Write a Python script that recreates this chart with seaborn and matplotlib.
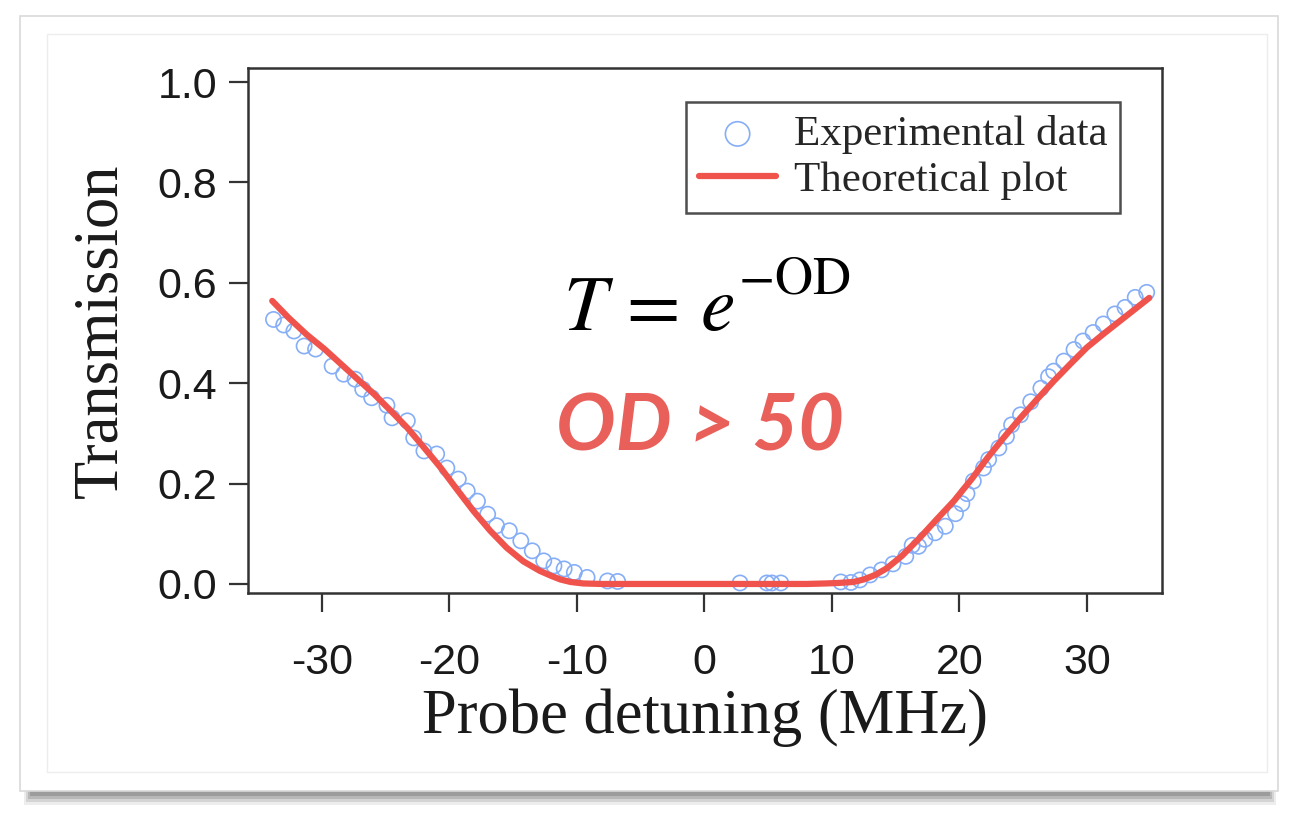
import numpy as np
import pandas as pd
import matplotlib
matplotlib.use("Agg")
import matplotlib.pyplot as plt
import seaborn as sns
from matplotlib.patches import Rectangle

# ---------------- data ----------------
exp_x = [-33.8, -33.0, -32.2, -31.4, -30.5, -29.2, -28.3, -27.4, -26.8, -26.1,
         -24.9, -24.5, -23.3, -22.8, -22.0, -21.0, -20.2, -19.3, -18.6, -17.8,
         -17.0, -16.3, -15.3, -14.4, -13.5, -12.6, -11.8, -11.0, -10.2, -9.2,
         -7.6, -6.8, 2.8, 4.9, 5.3, 6.0,
         10.7, 11.5, 12.2, 13.0, 13.9, 14.8, 15.8, 16.3, 16.8, 17.3, 18.1, 18.9,
         19.7, 20.2, 20.6, 21.1, 21.9, 22.3, 23.1, 23.7, 24.1, 24.8, 25.6, 26.4,
         27.0, 27.4, 28.2, 29.0, 29.7, 30.5, 31.3, 32.2, 33.0, 33.8, 34.7]
exp_y = [0.527, 0.516, 0.504, 0.474, 0.468, 0.434, 0.418, 0.408, 0.388, 0.371,
         0.356, 0.331, 0.325, 0.291, 0.265, 0.259, 0.231, 0.209, 0.185, 0.165,
         0.139, 0.116, 0.106, 0.086, 0.066, 0.046, 0.036, 0.030, 0.023, 0.013,
         0.006, 0.005, 0.002, 0.002, 0.002, 0.002,
         0.004, 0.003, 0.008, 0.018, 0.028, 0.040, 0.055, 0.077, 0.075, 0.089,
         0.102, 0.115, 0.140, 0.160, 0.180, 0.205, 0.231, 0.248, 0.271, 0.294,
         0.317, 0.337, 0.363, 0.390, 0.413, 0.424, 0.444, 0.467, 0.484, 0.501,
         0.518, 0.538, 0.551, 0.571, 0.581]

theo_x = [-33.9, -32.6, -31.2, -29.8, -28.5, -27.2, -25.9, -24.6, -23.3, -22.0,
          -20.7, -19.4, -18.1, -16.8, -15.5, -14.2, -12.9, -12.0, -11.3, -10.5,
          -9.5, -8.0, 0.0, 8.0, 9.5, 10.5, 11.7, 12.5, 13.4, 14.3, 15.5, 16.9,
          18.2, 19.6, 21.0, 22.2, 23.5, 24.8, 26.1, 27.4, 28.7, 30.0, 31.3,
          32.6, 33.8, 34.9]
theo_y = [0.564, 0.530, 0.497, 0.468, 0.438, 0.408, 0.378, 0.345, 0.311, 0.272,
          0.232, 0.188, 0.145, 0.106, 0.072, 0.045, 0.026, 0.016, 0.009, 0.004,
          0.001, 0.0, 0.0, 0.0, 0.001, 0.002, 0.004, 0.009, 0.018, 0.031, 0.056,
          0.092, 0.128, 0.166, 0.210, 0.251, 0.292, 0.331, 0.368, 0.404, 0.438,
          0.471, 0.498, 0.524, 0.548, 0.570]

x_ticks = [-30, -20, -10, 0, 10, 20, 30]
y_ticks = [0.0, 0.2, 0.4, 0.6, 0.8, 1.0]

exp_df = pd.DataFrame({"x": exp_x, "y": exp_y})
theo_df = pd.DataFrame({"x": theo_x, "y": theo_y})

# ---------------- styling ----------------
sns.set_theme(style="white")
plt.rcParams["font.family"] = ["Liberation Sans", "DejaVu Sans"]
plt.rcParams["mathtext.fontset"] = "stix"

RED = "#F0534C"
BLUE = "#86AEF7"
TEXT_RED = "#E9605B"

fig = plt.figure(figsize=(12.93, 8.19), dpi=100)
fig.patch.set_facecolor("white")

# card frame + shadow
W, H = 1293, 819
def fr(x0, y0, x1, y1, **kw):
    return Rectangle((x0 / W, 1 - y1 / H), (x1 - x0) / W, (y1 - y0) / H,
                     transform=fig.transFigure, **kw)
for i, a in enumerate([0.10, 0.16, 0.22, 0.28]):
    fig.patches.append(fr(24 + i * 2, 788, 1276 - i * 2, 796 + (3 - i) * 3,
                          facecolor="#555555", edgecolor="none", alpha=a, zorder=0))
fig.patches.append(fr(20, 16, 1278, 791, facecolor="white", edgecolor="#D9D9D9",
                      linewidth=1.2, zorder=1))
fig.patches.append(fr(47, 34, 1267, 772, facecolor="none", edgecolor="#EDEDED",
                      linewidth=1.0, zorder=1))

ax = fig.add_axes([248 / W, 1 - 593 / H, (1162 - 248) / W, (593 - 68) / H])
ax.set_facecolor("white")
ax.set_zorder(2)

sns.scatterplot(data=exp_df, x="x", y="y", ax=ax, marker="o", s=120,
                facecolor="none", edgecolor=BLUE, linewidth=1.2,
                label="Experimental data", zorder=3)
sns.lineplot(data=theo_df, x="x", y="y", ax=ax, color=RED, linewidth=4.5,
             label="Theoretical plot", zorder=4, sort=True, estimator=None)

ax.set_xlim(-35.8, 35.9)
ax.set_ylim(-0.018, 1.028)
ax.set_xticks(x_ticks)
ax.set_yticks(y_ticks)
ax.set_xticklabels([str(t) for t in x_ticks])
ax.set_yticklabels([f"{t:.1f}" for t in y_ticks])

for s in ax.spines.values():
    s.set_color("#333333")
    s.set_linewidth(1.8)

ax.tick_params(axis="both", which="major", direction="out", length=14,
               width=1.6, color="#333333", labelsize=31, labelcolor="#1a1a1a")
ax.tick_params(axis="x", pad=22, bottom=True)
ax.tick_params(axis="y", pad=8, left=True)

ax.set_xlabel("Probe detuning (MHz)", fontsize=45, family="Liberation Serif",
              color="#1a1a1a", labelpad=4)
ax.set_ylabel("Transmission", fontsize=45, family="Liberation Serif",
              color="#1a1a1a", labelpad=20)

leg = ax.legend(loc="upper right", bbox_to_anchor=(0.954, 0.935),
                borderaxespad=0, frameon=True, fancybox=False,
                prop={"family": "Liberation Serif", "size": 31},
                handlelength=1.8, handletextpad=0.4, labelspacing=0.15,
                borderpad=0.3, markerscale=1.6)
leg.get_frame().set_edgecolor("#222222")
leg.get_frame().set_linewidth(1.8)

# formula: base and raised exponent
ax.text(-11.1, 0.505, r"$T\,=\,e$", fontsize=56, color="black",
        ha="left", va="baseline")
ax.text(2.6, 0.578, r"$-\mathrm{OD}$", fontsize=38, color="black",
        ha="left", va="baseline")
ax.text(-11.6, 0.266, "OD > 50", fontsize=57, color=TEXT_RED, ha="left",
        va="baseline", family="Lato", fontweight="bold", fontstyle="italic")

fig.savefig("out.png", dpi=100, facecolor="white")
